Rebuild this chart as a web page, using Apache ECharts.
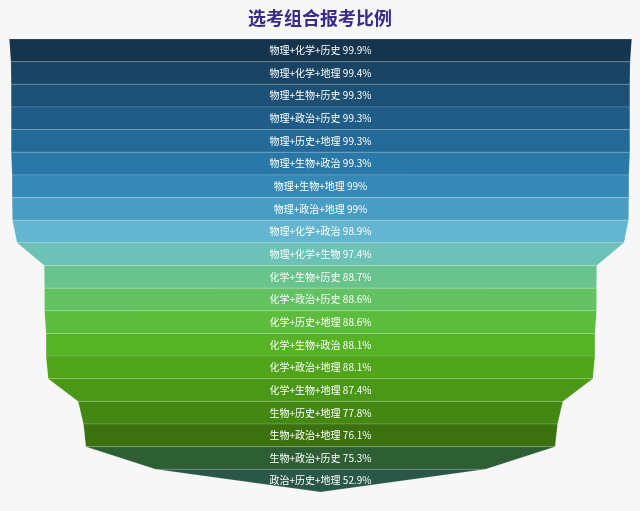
<!DOCTYPE html>
<html><head><meta charset="utf-8">
<script src="https://cdn.jsdelivr.net/npm/echarts@6/dist/echarts.min.js"></script>
<style>html,body{margin:0;padding:0;background:#f7f7f7;}#c{width:640px;height:511px;}</style>
</head><body><div id="c"></div>
<script>
const categories = ['物理+化学+历史','物理+化学+地理','物理+生物+历史','物理+政治+历史','物理+历史+地理','物理+生物+政治','物理+生物+地理','物理+政治+地理','物理+化学+政治','物理+化学+生物','化学+生物+历史','化学+政治+历史','化学+历史+地理','化学+生物+政治','化学+政治+地理','化学+生物+地理','生物+历史+地理','生物+政治+地理','生物+政治+历史','政治+历史+地理'];
const values = [99.9,99.4,99.3,99.3,99.3,99.3,99,99,98.9,97.4,88.7,88.6,88.6,88.1,88.1,87.4,77.8,76.1,75.3,52.9];
const colors = ['#15354f','#1a4464','#1c5074','#1f5d88','#236a99','#2978a8','#3489b6','#4a9dc2','#64b5d0','#6cc2b6','#69c38d','#63c262','#5cbd3c','#56b325','#50a51b','#4b9818','#448813','#3b720f','#2e5f34','#2a5848'];
const chart = echarts.init(document.getElementById('c'));
chart.setOption({
  backgroundColor:'#f7f7f7',
  title:{text:'选考组合报考比例',left:'center',top:4,textStyle:{color:'#3b2a8c',fontSize:18,fontWeight:'bold',fontFamily:'Noto Sans CJK SC'}},
  series:[{
    type:'funnel',
    left:9,right:8,top:39,bottom:19,
    min:0,max:100,minSize:'0%',maxSize:'100%',
    sort:'descending',gap:0,
    label:{show:true,position:'inside',color:'#fff',fontSize:10,fontFamily:'Noto Sans CJK SC',formatter:p=>p.name+' '+p.value+'%'},
    itemStyle:{borderWidth:1,borderColor:'rgba(255,255,255,0.15)'},
    data:categories.map((n,i)=>({name:n,value:values[i],itemStyle:{color:colors[i]}}))
  }]
});
</script></body></html>
